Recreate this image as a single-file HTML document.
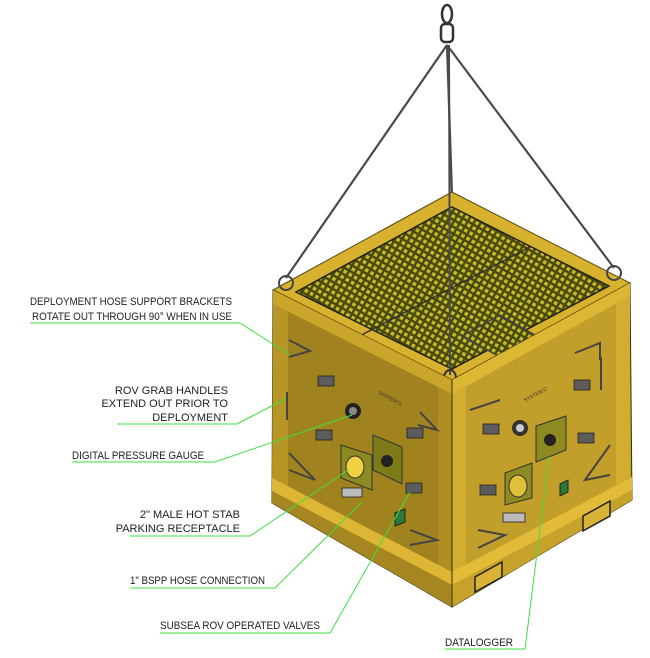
<!DOCTYPE html>
<html><head><meta charset="utf-8"><style>
html,body{margin:0;padding:0;background:#fff;}
svg{display:block}
text{font-family:"Liberation Sans",sans-serif;font-size:11px;fill:#222;}
</style></head><body>
<svg width="650" height="658" viewBox="0 0 650 658" xmlns="http://www.w3.org/2000/svg">
<defs>
<pattern id="grat" width="6" height="6" patternUnits="userSpaceOnUse" patternTransform="rotate(30)">
<rect width="6" height="6" fill="#4a4a10"/>
<rect x="1" y="1" width="3.5" height="3.5" fill="#c4bc22"/>
</pattern>
</defs>

<!-- rigging -->
<g stroke="#4a4a4a" stroke-width="2.2" fill="none">
<line x1="447" y1="45" x2="286" y2="278"/>
<line x1="447" y1="45" x2="614" y2="268"/>
<line x1="447" y1="45" x2="452" y2="195"/>
</g>
<g stroke="#333" stroke-width="2.5" fill="none">
<ellipse cx="447" cy="14" rx="5" ry="9"/>
<rect x="441" y="24" width="12" height="18" rx="4"/>
</g>

<!-- top frame -->
<polygon points="273,290 452,192 630,283 452,380" fill="#d8b22e" stroke="#5a4a10" stroke-width="1"/>
<polygon points="296,292 452,207 609,286 452,369" fill="url(#grat)" stroke="#222" stroke-width="1.5"/>
<line x1="350" y1="341" x2="530" y2="247" stroke="#333" stroke-width="1.5"/>
<polygon points="462,336 500,315 540,338 502,358" fill="url(#grat)" stroke="#444" stroke-width="1.5"/>
<line x1="449" y1="45" x2="450" y2="375" stroke="#4a4a4a" stroke-width="2"/>
<ellipse cx="450" cy="378" rx="6" ry="8" fill="none" stroke="#333" stroke-width="2"/>
<circle cx="286" cy="283" r="7" fill="none" stroke="#444" stroke-width="2"/>
<circle cx="614" cy="273" r="7" fill="none" stroke="#444" stroke-width="2"/>

<!-- left face -->
<polygon points="273,290 452,380 452,607 272,503" fill="#a0831e" stroke="#3c320a" stroke-width="1"/>
<polygon points="273,290 452,380 452,394 273,304" fill="#c9a52a"/>
<!-- right face -->
<polygon points="452,380 630,283 632,500 452,607" fill="#c29e2a" stroke="#3c320a" stroke-width="1"/>
<polygon points="452,380 630,283 630,296 452,394" fill="#dcb734"/>
<polygon points="273,304 288,311 288,490 272,482" fill="#b89626"/>
<polygon points="438,387 452,394 452,578 438,571" fill="#b08e22"/>
<polygon points="452,394 466,386 466,571 452,578" fill="#d3ad30"/>
<polygon points="616,304 630,296 630,477 616,485" fill="#d3ad30"/>
<!-- bottom skid -->
<polygon points="272,478 452,572 452,585 272,491" fill="#dcb634"/>
<polygon points="452,572 632,477 632,490 452,585" fill="#e2bc38"/>
<polygon points="452,585 632,490 632,500 452,607" fill="#c7a22a"/>
<polygon points="272,491 452,585 452,607 272,503" fill="#a68620"/>
<line x1="452" y1="380" x2="452" y2="607" stroke="#3c320a"/>
<polygon points="475,592 502,577 502,562 475,577" fill="#d9b336" stroke="#222" stroke-width="1.5"/>
<polygon points="583,531 610,516 610,501 583,516" fill="#d9b336" stroke="#222" stroke-width="1.5"/>

<g stroke="#444" stroke-width="2" fill="none">
<path d="M289,340 L310,351 L289,357"/>
<path d="M287,392 L287,420"/>
<path d="M289,453 L315,480 L289,470"/>
<path d="M420,412 L437,430 L418,425"/>
<path d="M410,530 L437,540 L410,545"/>
<path d="M601,357 L601,390"/>
<path d="M610,445 L585,480 L610,475"/>
<path d="M575,353 L600,343 L600,360"/>
<path d="M470,410 L500,400"/>
<path d="M478,548 L505,535 L478,530"/>
</g>
<g fill="#5c5c5c" stroke="#222" stroke-width="0.8">
<rect x="318" y="376" width="16" height="10"/>
<rect x="316" y="430" width="16" height="10"/>
<rect x="407" y="428" width="16" height="10"/>
<rect x="406" y="483" width="16" height="10"/>
<rect x="483" y="424" width="16" height="10"/>
<rect x="480" y="485" width="16" height="10"/>
<rect x="574" y="380" width="16" height="10"/>
<rect x="578" y="433" width="16" height="10"/>
<rect x="342" y="488" width="20" height="9" fill="#bbb"/>
<rect x="503" y="513" width="22" height="9" fill="#bbb"/>
</g>
<circle cx="353" cy="411" r="8" fill="#222"/>
<circle cx="353" cy="411" r="4" fill="#888"/>
<circle cx="520" cy="428" r="8" fill="#333"/>
<circle cx="520" cy="428" r="4" fill="#ccc"/>
<polygon points="341,445 372,455 372,490 341,478" fill="#8c8a20" stroke="#333"/>
<ellipse cx="355" cy="467" rx="9" ry="11" fill="#f0d040" stroke="#333"/>
<polygon points="373,435 402,447 402,484 373,470" fill="#7d7a1a" stroke="#333"/>
<circle cx="387" cy="461" r="6" fill="#222"/>
<polygon points="395,513 405,509 405,522 395,526" fill="#2b7a3a" stroke="#222"/>
<polygon points="536,426 566,416 566,450 536,462" fill="#8c8a20" stroke="#333"/>
<circle cx="550" cy="440" r="6" fill="#222"/>
<polygon points="505,473 532,463 532,498 505,505" fill="#8c8a20" stroke="#333"/>
<ellipse cx="518" cy="486" rx="9" ry="11" fill="#e0c038" stroke="#333"/>
<polygon points="560,484 568,480 568,492 560,496" fill="#2b7a3a" stroke="#222"/>
<text x="378" y="394" style="font-size:5px;fill:#333" transform="rotate(27 378 394)">SYSTEM D</text>
<text x="525" y="402" style="font-size:5px;fill:#333" transform="rotate(-28 525 402)">SYSTEM C</text>

<g stroke="#3ee03e" stroke-width="1" fill="none">
<polyline points="30,323 240,323 290,355"/>
<polyline points="117,424 237,424 285,399"/>
<polyline points="72,462 215,462 352,415"/>
<polyline points="130,536 250,536 348,470"/>
<polyline points="130,588 275,588 362,502"/>
<polyline points="160,633 330,633 410,492"/>
<polyline points="445,649 525,649 549,457"/>
</g>

<text x="30" y="305" textLength="202" lengthAdjust="spacingAndGlyphs">DEPLOYMENT HOSE SUPPORT BRACKETS</text>
<text x="32" y="320" textLength="200" lengthAdjust="spacingAndGlyphs">ROTATE OUT THROUGH 90° WHEN IN USE</text>
<text x="228" y="394" text-anchor="end">ROV GRAB HANDLES</text>
<text x="228" y="407" text-anchor="end">EXTEND OUT PRIOR TO</text>
<text x="228" y="421" text-anchor="end">DEPLOYMENT</text>
<text x="72" y="459" textLength="132" lengthAdjust="spacingAndGlyphs">DIGITAL PRESSURE GAUGE</text>
<text x="240" y="518" text-anchor="end">2" MALE HOT STAB</text>
<text x="240" y="532" text-anchor="end">PARKING RECEPTACLE</text>
<text x="130" y="584" textLength="135" lengthAdjust="spacingAndGlyphs">1" BSPP HOSE CONNECTION</text>
<text x="160" y="629" textLength="160" lengthAdjust="spacingAndGlyphs">SUBSEA ROV OPERATED VALVES</text>
<text x="445" y="646" textLength="68" lengthAdjust="spacingAndGlyphs">DATALOGGER</text>
</svg>
</body></html>
